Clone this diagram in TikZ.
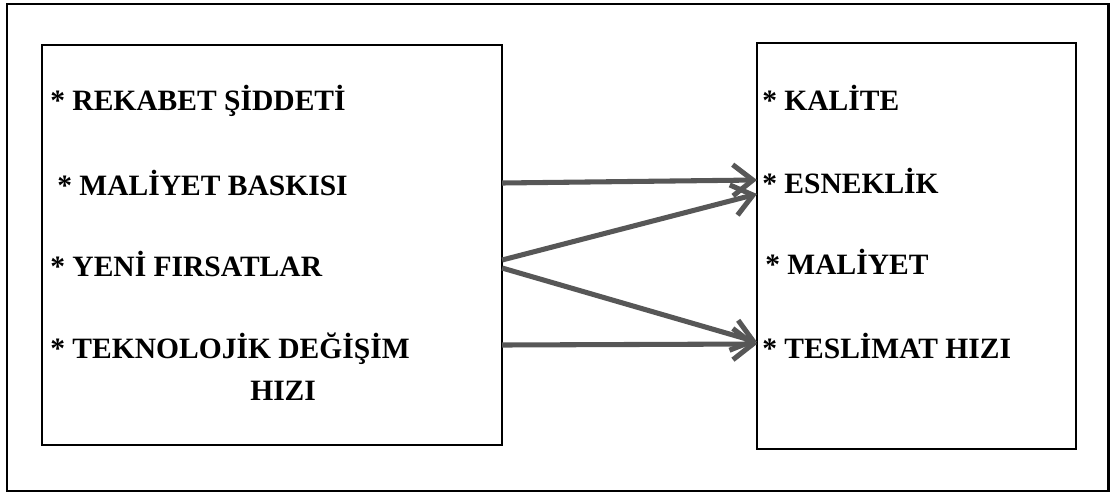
\documentclass[tikz,border=0pt]{standalone}
\usepackage{fontspec}
\setmainfont{Liberation Serif}
\usetikzlibrary{arrows.meta}
\begin{document}
\begin{tikzpicture}[x=0.025cm, y=-0.025cm,
  frame/.style={draw=black, line width=1.9pt, inner sep=0pt, outer sep=0pt, anchor=north west},
  item/.style={anchor=base west, inner sep=0pt, font=\fontsize{21}{25}\selectfont\bfseries},
  flow/.style={draw=black!66, line width=3.6pt,
    -{Straight Barb[length=0.5cm, width=0.78cm]}}]
  \useasboundingbox (0,0) rectangle (1111,495);
  % outer frame and the two boxes
  \node[frame, minimum width=27.525cm, minimum height=12.175cm] (outer) at (7,4) {};
  \node[frame, minimum width=11.5cm, minimum height=10cm] (L) at (42,45) {};
  \node[frame, minimum width=7.975cm, minimum height=10.15cm] (R) at (757,43) {};
  % left column
  \node[item] (l1) at (50,110) {* REKABET ŞİDDETİ};
  \node[item] (l2) at (57,195) {* MALİYET BASKISI};
  \node[item] (l3) at (50,276) {* YENİ FIRSATLAR};
  \node[item] (l4) at (50,358) {* TEKNOLOJİK DEĞİŞİM};
  \node[item] (l5) at (250,400) {HIZI};
  % right column
  \node[item] (r1) at (762,110) {* KALİTE};
  \node[item] (r2) at (762,193) {* ESNEKLİK};
  \node[item] (r3) at (765,274) {* MALİYET};
  \node[item] (r4) at (762,358) {* TESLİMAT HIZI};
  % arrow end points on the box borders
  \coordinate (s1) at (L.east |- 0,183);
  \coordinate (s2) at (L.east |- 0,260);
  \coordinate (s3) at (L.east |- 0,268);
  \coordinate (s4) at (L.east |- 0,345);
  \coordinate (t1) at (R.west |- 0,180);
  \coordinate (t2) at (R.west |- 0,194);
  \coordinate (t3) at (R.west |- 0,342);
  \coordinate (t4) at (R.west |- 0,344);
  \draw[flow] (s1) -- (t1);
  \draw[flow] (s2) -- (t2);
  \draw[flow] (s3) -- (t3);
  \draw[flow] (s4) -- (t4);
\end{tikzpicture}
\end{document}
